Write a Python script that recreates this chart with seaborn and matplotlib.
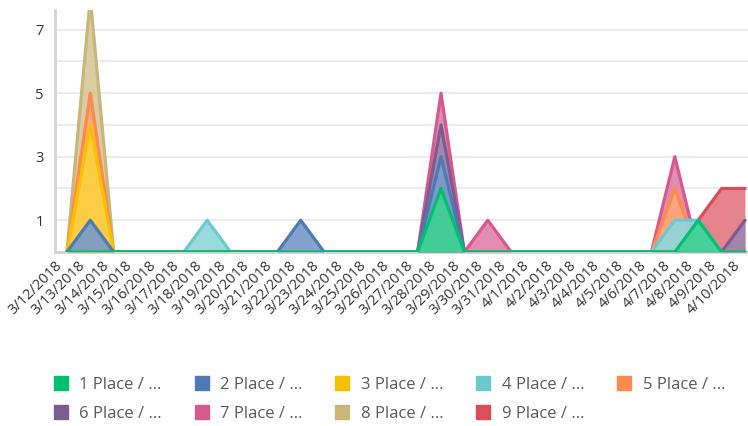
import numpy as np
import pandas as pd
import seaborn as sns
import matplotlib.pyplot as plt
import matplotlib.colors as mcolors
import matplotlib.transforms as mtrans
from matplotlib.lines import Line2D

sns.set_style("white")
plt.rcParams['font.family'] = ['Open Sans', 'DejaVu Sans']

dates = ["3/12/2018", "3/13/2018", "3/14/2018", "3/15/2018", "3/16/2018", "3/17/2018",
         "3/18/2018", "3/19/2018", "3/20/2018", "3/21/2018", "3/22/2018", "3/23/2018",
         "3/24/2018", "3/25/2018", "3/26/2018", "3/27/2018", "3/28/2018", "3/29/2018",
         "3/30/2018", "3/31/2018", "4/1/2018", "4/2/2018", "4/3/2018", "4/4/2018",
         "4/5/2018", "4/6/2018", "4/7/2018", "4/8/2018", "4/9/2018", "4/10/2018"]

place1 = [0,0,0,0,0,0,0,0,0,0,0,0,0,0,0,0,2,0,0,0,0,0,0,0,0,0,0,1,0,0]
place2 = [0,1,0,0,0,0,0,0,0,0,1,0,0,0,0,0,3,0,0,0,0,0,0,0,0,0,0,0,0,0]
place3 = [0,4,0,0,0,0,0,0,0,0,0,0,0,0,0,0,0,0,0,0,0,0,0,0,0,0,0,0,0,0]
place4 = [0,0,0,0,0,0,1,0,0,0,0,0,0,0,0,0,0,0,0,0,0,0,0,0,0,0,1,1,0,0]
place5 = [0,5,0,0,0,0,0,0,0,0,0,0,0,0,0,0,0,0,0,0,0,0,0,0,0,0,2,0,0,0]
place6 = [0,0,0,0,0,0,0,0,0,0,0,0,0,0,0,0,4,0,0,0,0,0,0,0,0,0,0,0,0,1]
place7 = [0,0,0,0,0,0,0,0,0,0,0,0,0,0,0,0,5,0,1,0,0,0,0,0,0,0,3,0,0,0]
place8 = [0,8,0,0,0,0,0,0,0,0,0,0,0,0,0,0,0,0,0,0,0,0,0,0,0,0,0,0,0,0]
place9 = [0,0,0,0,0,0,0,0,0,0,0,0,0,0,0,0,0,0,0,0,0,0,0,0,0,0,0,1,2,2]

names = ["1 Place / ...", "2 Place / ...", "3 Place / ...", "4 Place / ...", "5 Place / ...",
         "6 Place / ...", "7 Place / ...", "8 Place / ...", "9 Place / ..."]
series = [place1, place2, place3, place4, place5, place6, place7, place8, place9]
colors = ["#00C170", "#4D7AB6", "#F9C000", "#6CCACF", "#FF8A4C",
          "#7D5C91", "#D65A8E", "#C9B779", "#DA4D5A"]


def lighten(c, amt=0.25):
    rgb = np.array(mcolors.to_rgb(c))
    return tuple(rgb * (1 - amt) + amt)


x = np.arange(len(dates))

fig = plt.figure(figsize=(7.48, 4.26), dpi=100)
ax = fig.add_axes([55/748, 174/426, 693/748, 242/426])

# draw last place first so 1 Place ends up on top
for i in range(len(series) - 1, -1, -1):
    y = np.array(series[i])
    z = 2 + (len(series) - i)
    ax.fill_between(x, 0, y, color=lighten(colors[i]), alpha=0.92, lw=0, zorder=z)
    sns.lineplot(x=x, y=y, color=colors[i], lw=2.3, ax=ax, zorder=z + 0.5)

ax.set_xlim(-0.51, 29.13)
ax.set_ylim(0, 7.62)
ax.set_yticks([1, 3, 5, 7])
ax.set_yticks([2, 4, 6], minor=True)
ax.grid(True, which="both", axis="y", color="#ebebeb", lw=1.3, zorder=0)
ax.set_axisbelow(True)
ax.set_xticks(x)
ax.set_xticklabels(dates)
ax.tick_params(axis="x", length=0, pad=8, labelsize=10.5, colors="#333333")
ax.tick_params(axis="y", which="both", length=0, pad=8, labelsize=10.5, colors="#333333")
shift = mtrans.ScaledTranslation(-7/100, 0, fig.dpi_scale_trans)
for lbl in ax.get_xticklabels():
    lbl.set_rotation(45)
    lbl.set_ha("right")
    lbl.set_va("center")
    lbl.set_rotation_mode("anchor")
    lbl.set_transform(lbl.get_transform() + shift)
for s in ["top", "right"]:
    ax.spines[s].set_visible(False)
ax.spines["left"].set_color("#d4d4d4")
ax.spines["left"].set_linewidth(2)
ax.spines["bottom"].set_color("#d4d4d4")
ax.spines["bottom"].set_linewidth(2)
ax.set_xlabel("")
ax.set_ylabel("")

# legend fills column by column, so interleave the two rows
order = [0, 5, 1, 6, 2, 7, 3, 8, 4]
handles = [Line2D([], [], marker="s", ls="", markersize=10, color=colors[k]) for k in order]
labels = [names[k] for k in order]
fig.legend(handles, labels, loc="upper left", bbox_to_anchor=(54/748, 1 - 377/426),
           ncol=5, frameon=False, fontsize=12, handlelength=0.8, handletextpad=0.7,
           columnspacing=2.0, labelspacing=0.75, borderaxespad=0, borderpad=0,
           labelcolor="#5a5a5a")

fig.savefig("out.png", dpi=100)
